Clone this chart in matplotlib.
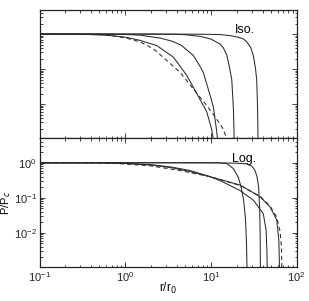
import matplotlib.pyplot as plt

plt.rcParams['font.family'] = ['Liberation Sans', 'DejaVu Sans']

# Upper panel ("Iso.") -- four solid profiles and one dashed reference
iso_r_a = [0.1, 3, 8, 12.8, 17, 20, 23.7, 26.2, 29, 31.3, 33, 34.2, 34.9, 35.3, 35.4]
iso_p_a = [1, 1, 0.99, 0.97, 0.9, 0.83, 0.74, 0.6, 0.42, 0.24, 0.11, 0.05, 0.01, 0.002, 0.0005]

iso_r_b = [0.1, 2, 4, 5, 7.5, 10, 12.8, 14, 15.3, 16.5, 17.5, 18.3, 18.6, 18.7]
iso_p_b = [1, 1, 0.98, 0.96, 0.86, 0.72, 0.52, 0.4, 0.25, 0.11, 0.05, 0.007, 0.0015, 0.0005]

iso_r_c = [0.1, 0.5, 1, 1.5, 2.55, 3.5, 4.5, 6.23, 7.46, 8.15, 9.76, 10.7, 11.2, 11.7, 11.9, 12.0]
iso_p_c = [1, 1, 0.98, 0.93, 0.77, 0.63, 0.48, 0.245, 0.12, 0.08, 0.018, 0.008, 0.0035, 0.0016, 0.001, 0.0005]

iso_r_d = [0.1, 0.3, 0.6, 1, 1.49, 2.33, 3.64, 5.22, 6.83, 8.93, 10.2, 10.7, 11.0]
iso_p_d = [1, 0.99, 0.93, 0.82, 0.66, 0.47, 0.22, 0.066, 0.02, 0.006, 0.0019, 0.0009, 0.0005]

iso_r_dash = [0.1, 0.3, 0.5, 0.7, 1, 1.49, 2.13, 3.05, 4.36, 6.23, 8.93, 11.2, 13.95, 15.3, 16.0]
iso_p_dash = [1, 1, 0.97, 0.9, 0.78, 0.6, 0.38, 0.176, 0.081, 0.027, 0.0091, 0.0043, 0.0019, 0.001, 0.0006]

# Lower panel ("Log.")
log_r_a = [0.1, 5, 12.8, 20, 26, 30, 32.5, 34.5, 36, 37, 37.5, 37.7, 37.8]
log_p_a = [1, 1, 0.99, 0.97, 0.93, 0.8, 0.62, 0.4, 0.2, 0.05, 0.01, 0.002, 0.0005]

log_r_b = [0.1, 5, 12, 15.3, 18.3, 20.9, 22.5, 24, 25.3, 26, 26.3, 26.4]
log_p_b = [1, 1, 1, 0.95, 0.68, 0.38, 0.2, 0.09, 0.025, 0.005, 0.0012, 0.0005]

log_r_c = [0.1, 0.5, 1, 2, 3.5, 5.7, 9.76, 21.9, 37.4, 48.9, 58.6, 62, 63, 63.2]
log_p_c = [1, 1, 0.97, 0.88, 0.75, 0.6, 0.4, 0.23, 0.107, 0.055, 0.023, 0.006, 0.0012, 0.0005]

log_r_d = [0.1, 0.5, 1, 2, 3.5, 5.7, 9.76, 12.8, 21.9, 31.3, 40.8, 44, 45, 45.3, 45.4]
log_p_d = [1, 1, 0.96, 0.86, 0.72, 0.56, 0.4, 0.31, 0.16, 0.085, 0.035, 0.012, 0.003, 0.001, 0.0005]

log_r_dash = [0.1, 0.4, 0.8, 1.95, 4.36, 9.76, 21.9, 37.4, 48.9, 58.6, 64, 66.5, 67.2, 67.4]
log_p_dash = [1, 0.99, 0.95, 0.82, 0.6, 0.4, 0.225, 0.11, 0.058, 0.028, 0.011, 0.004, 0.001, 0.0005]

LINE = '#2a2a2a'


def style_axis(ax):
    ax.set_xscale('log')
    ax.set_yscale('log')
    ax.set_xlim(0.1, 100)
    ax.set_ylim(1.05e-3, 5)
    ax.tick_params(which='both', direction='in', top=True, right=True,
                   labelsize=8, width=0.6, colors='#222222', pad=2)
    ax.tick_params(which='major', length=3.5)
    ax.tick_params(which='minor', length=1.8)
    for s in ax.spines.values():
        s.set_linewidth(0.9)
        s.set_color('#222222')


def main():
    fig, (ax1, ax2) = plt.subplots(2, 1, figsize=(3.09, 3.01), dpi=100, sharex=True)
    fig.subplots_adjust(left=0.128, right=0.960, top=0.968, bottom=0.113, hspace=0)

    for ax in (ax1, ax2):
        style_axis(ax)

    for r, p in [(iso_r_a, iso_p_a), (iso_r_b, iso_p_b), (iso_r_c, iso_p_c), (iso_r_d, iso_p_d)]:
        ax1.plot(r, p, color=LINE, lw=0.75)
    ax1.plot(iso_r_dash, iso_p_dash, color=LINE, lw=0.75, dashes=(4, 3))
    ax1.text(19, 1.3, 'Iso.', fontsize=9, ha='left', va='center')
    ax1.tick_params(labelleft=False, labelbottom=False)

    for r, p in [(log_r_a, log_p_a), (log_r_b, log_p_b), (log_r_c, log_p_c), (log_r_d, log_p_d)]:
        ax2.plot(r, p, color=LINE, lw=0.75)
    ax2.plot(log_r_dash, log_p_dash, color=LINE, lw=0.75, dashes=(4, 3))
    ax2.text(17.5, 1.3, 'Log.', fontsize=9, ha='left', va='center')

    ax2.set_ylabel('P/P$_c$', fontsize=8, va='center')
    ax2.yaxis.set_label_coords(-0.13, 0.5)
    ax2.set_xlabel('r/r$_0$', fontsize=8.5)
    ax2.xaxis.set_label_coords(0.5, -0.11)

    plt.savefig('out.png', dpi=100)
    plt.close()


if __name__ == '__main__':
    main()
